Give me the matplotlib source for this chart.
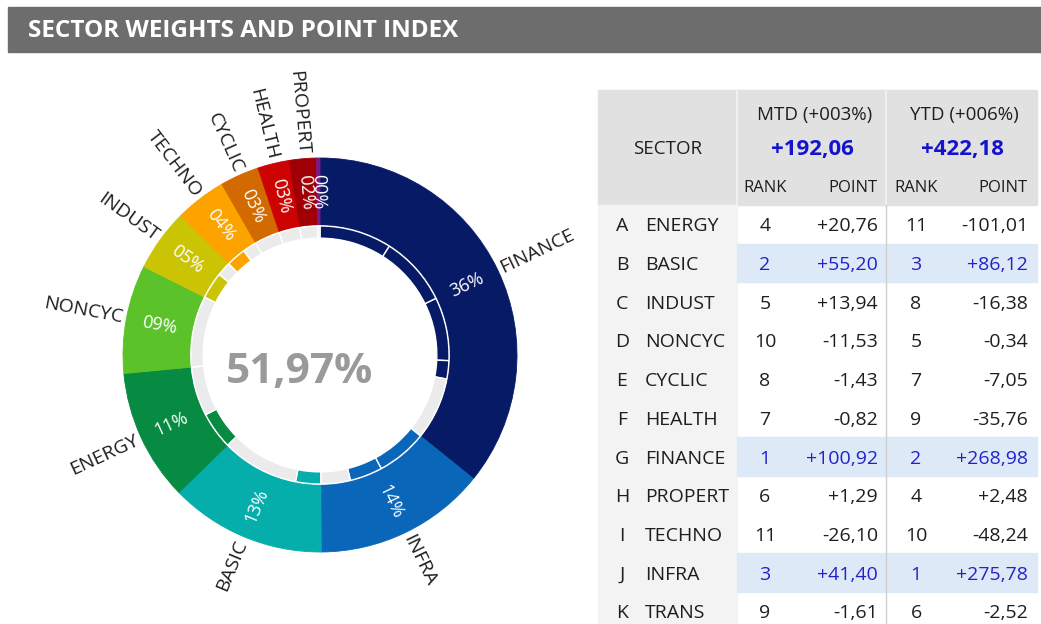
import numpy as np
import matplotlib
matplotlib.use('Agg')
import matplotlib.pyplot as plt
from matplotlib.patches import Rectangle

plt.rcParams['font.family'] = ['Open Sans', 'DejaVu Sans']

# donut: sector weights (% of index), clockwise from the top
sectors = ['FINANCE', 'INFRA', 'BASIC', 'ENERGY', 'NONCYC', 'INDUST',
           'TECHNO', 'CYCLIC', 'HEALTH', 'PROPERT', 'TRANS']
weights = [35.8, 14.1, 12.8, 10.8, 8.9, 5.1, 4.2, 3.2, 2.6, 2.2, 0.3]
colors = ['#071a66', '#0a66b8', '#05adab', '#078a41', '#5bc22a', '#cbc404',
          '#fda300', '#d26a00', '#cd0303', '#a00005', '#7a1a82']
# inner ring: filled parts inside each sector (% of full circle)
inner_parts = [[9.03, 8.75, 7.92, 2.29], [6.33, 4.08], [3.14], [4.64], [],
               [3.33], [2.46], [], [], [], []]

# table
letters = list('ABCDEFGHIJK')
tbl_sectors = ['ENERGY', 'BASIC', 'INDUST', 'NONCYC', 'CYCLIC', 'HEALTH',
               'FINANCE', 'PROPERT', 'TECHNO', 'INFRA', 'TRANS']
mtd_rank = [4, 2, 5, 10, 8, 7, 1, 6, 11, 3, 9]
mtd_point = [20.76, 55.20, 13.94, -11.53, -1.43, -0.82, 100.92, 1.29, -26.10, 41.40, -1.61]
ytd_rank = [11, 3, 8, 5, 7, 9, 2, 4, 10, 1, 6]
ytd_point = [-101.01, 86.12, -16.38, -0.34, -7.05, -35.76, 268.98, 2.48, -48.24, 275.78, -2.52]
mtd_total, mtd_pct = 192.06, 3
ytd_total, ytd_pct = 422.18, 6

GREY = '#ebebeb'
TXT = '#1e1e1e'
BLUE = '#2222cc'


def fmt(v, sign=True):
    s = f"{v:+.2f}" if sign else f"{v:.2f}"
    return s.replace('.', ',')


W, H = 1041, 624
fig = plt.figure(figsize=(W / 100, H / 100), dpi=100)

# page overlay in pixel units (title bar + table)
bg = fig.add_axes([0, 0, 1, 1])
bg.set_xlim(0, W)
bg.set_ylim(H, 0)
bg.axis('off')

bg.add_patch(Rectangle((8, 7), W - 8, 45, color='#6d6d6d'))
bg.text(28, 31, 'SECTOR WEIGHTS AND POINT INDEX', color='white',
        fontsize=17.5, fontweight='bold', va='center', ha='left')

x0, x1, x2, x3 = 598, 737, 886, 1037
top, hbot, row_h = 90, 205, 38.7
dy = 2  # text nudge so caps sit in the middle of the row

bg.add_patch(Rectangle((x0, top), x3 - x0, hbot - top, color='#e1e1e1'))
bg.add_patch(Rectangle((x0, hbot), x1 - x0, H - hbot, color='#f3f3f3'))
for i in range(len(letters)):
    if mtd_rank[i] <= 3:
        bg.add_patch(Rectangle((x1, hbot + i * row_h), x3 - x1, row_h, color='#dde9f6'))
bg.plot([x1, x1], [top, hbot], color='#f4f4f4', lw=1.2)
bg.plot([x2, x2], [top, hbot], color='#f4f4f4', lw=1.2)
bg.plot([x2, x2], [hbot, H], color='#cfcfcf', lw=1)

bg.text((x0 + x1) / 2, 147 + dy, 'SECTOR', fontsize=13.5, color=TXT, ha='center', va='center')
bg.text(815, 113 + dy, f'MTD (+{mtd_pct:03d}%)', fontsize=13.5, color=TXT, ha='center', va='center')
bg.text(964, 113 + dy, f'YTD (+{ytd_pct:03d}%)', fontsize=13.5, color=TXT, ha='center', va='center')
bg.text(812, 147 + dy, fmt(mtd_total), fontsize=16, fontweight='bold', color='#1414cc',
        ha='center', va='center')
bg.text(962, 147 + dy, fmt(ytd_total), fontsize=16, fontweight='bold', color='#1414cc',
        ha='center', va='center')
for cx, lab, ha in [(765, 'RANK', 'center'), (878, 'POINT', 'right'),
                    (916, 'RANK', 'center'), (1028, 'POINT', 'right')]:
    bg.text(cx, 186 + dy, lab, fontsize=12, color=TXT, ha=ha, va='center')

for i in range(len(letters)):
    y = hbot + (i + 0.5) * row_h + dy
    c = BLUE if mtd_rank[i] <= 3 else TXT
    bg.text(622, y, letters[i], fontsize=14, color=TXT, ha='center', va='center')
    bg.text(645, y, tbl_sectors[i], fontsize=14, color=TXT, ha='left', va='center')
    bg.text(765, y, str(mtd_rank[i]), fontsize=14, color=c, ha='center', va='center')
    bg.text(878, y, fmt(mtd_point[i]), fontsize=14, color=c, ha='right', va='center')
    bg.text(916, y, str(ytd_rank[i]), fontsize=14, color=c, ha='center', va='center')
    bg.text(1028, y, fmt(ytd_point[i], sign=ytd_point[i] > 0), fontsize=14, color=c,
            ha='right', va='center')

# donut
cx, cy, R = 320, 355, 197
half = 260
ax = fig.add_axes([(cx - half) / W, (H - cy - half) / H, 2 * half / W, 2 * half / H])

wedges, _ = ax.pie(weights, colors=colors, radius=1.0, startangle=90, counterclock=False,
                   wedgeprops=dict(width=0.34, linewidth=0.6))
for w, c in zip(wedges, colors):
    w.set_edgecolor(c)

in_vals, in_cols = [], []
for parts, wgt, c in zip(inner_parts, weights, colors):
    for p in parts:
        in_vals.append(p)
        in_cols.append(c)
    in_vals.append(wgt - sum(parts))
    in_cols.append(GREY)
ax.pie(in_vals, colors=in_cols, radius=0.655, startangle=90, counterclock=False,
       wedgeprops=dict(width=0.062, edgecolor='white', linewidth=1))

# pie() resets the limits, so set them afterwards
ax.set_xlim(-half / R, half / R)
ax.set_ylim(-half / R, half / R)
ax.set_aspect('equal')
ax.axis('off')

for w, name, wgt in zip(wedges, sectors, weights):
    th = np.deg2rad((w.theta1 + w.theta2) / 2)
    deg = np.rad2deg(th)
    right = np.cos(th) >= 0
    rot = deg if right else deg - 180
    ax.text(0.83 * np.cos(th), 0.83 * np.sin(th), f'{wgt:02.0f}%', color='white',
            fontsize=13, rotation=rot, rotation_mode='anchor', ha='center', va='center')
    if wgt >= 1:
        ax.text(1.02 * np.cos(th), 1.02 * np.sin(th), name, color=TXT, fontsize=14,
                rotation=rot, rotation_mode='anchor', ha='left' if right else 'right',
                va='center')

covered = sum(sum(p) for p in inner_parts)
ax.text(-20 / R, -17 / R, f'{covered:.2f}'.replace('.', ',') + '%', fontsize=30.5,
        fontweight='bold', color='#9a9a9a', ha='center', va='center')

fig.savefig('out.png', dpi=100)
